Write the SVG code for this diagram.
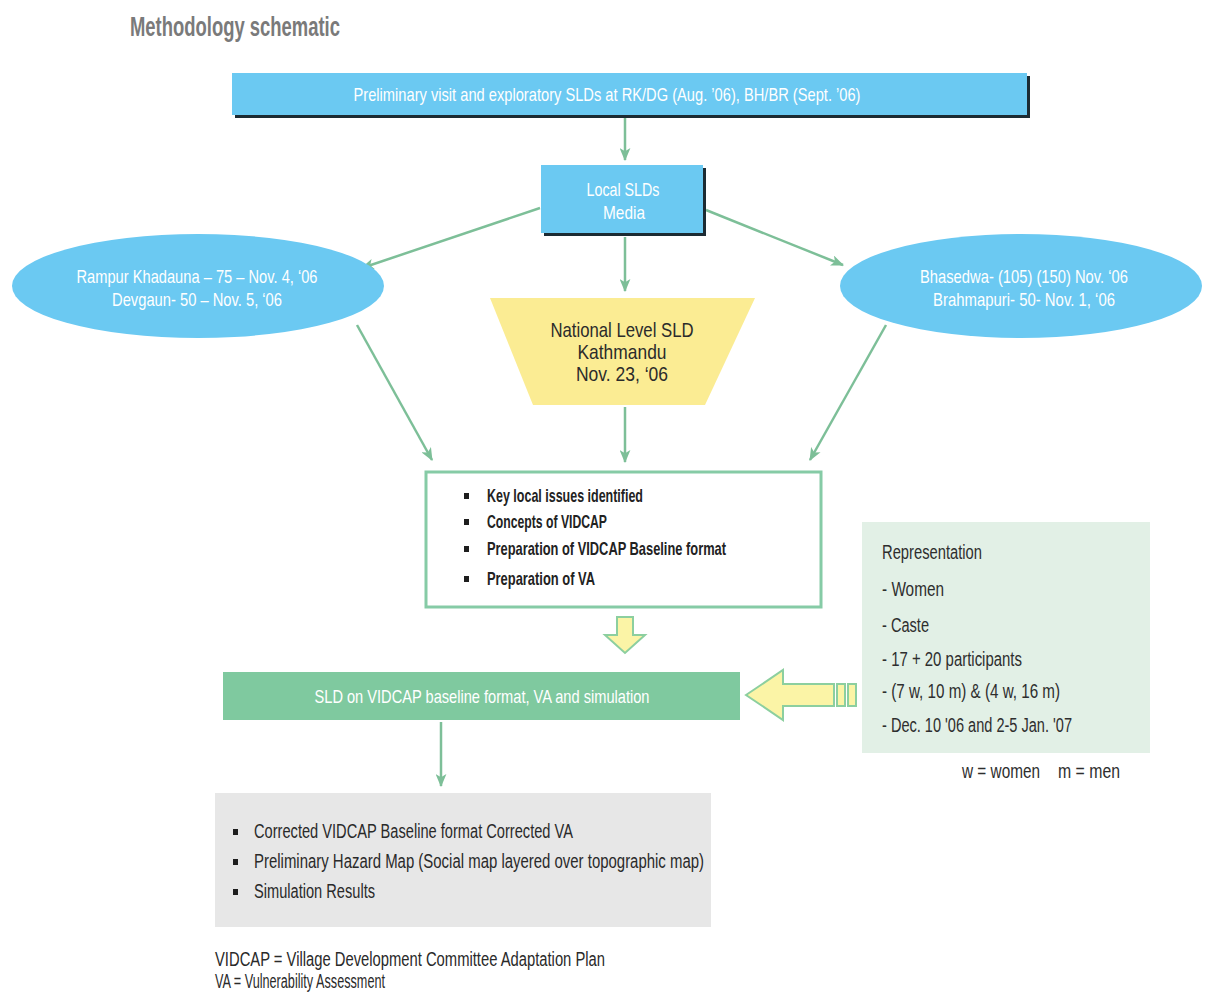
<svg xmlns="http://www.w3.org/2000/svg" width="1205" height="992" viewBox="0 0 1205 992">
  <style>
    text { font-family: "Liberation Sans", Arial, sans-serif; }
    .title { font-size: 28px; font-weight: bold; fill: #7a7a7a; }
    .wt { font-size: 19px; fill: #ffffff; text-anchor: middle; }
    .dk { font-size: 21px; fill: #2b2b2b; text-anchor: middle; }
    .blt { font-size: 19px; font-weight: bold; fill: #222222; }
    .rep { font-size: 20px; fill: #2e2e2e; }
    .gry { font-size: 20px; fill: #2a2a2a; }
    .blue { fill: #6bc9f2; }
    .shadow { fill: #1c2b33; }
    .conn { stroke: #7dbf98; stroke-width: 2.5; fill: none; marker-end: url(#head); }
    .hollow { fill: #fbf4a6; stroke: #8ccf9f; stroke-width: 2; }
    .sq { fill: #1e1e1e; }
  </style>
  <defs>
    <marker id="head" viewBox="0 0 12 10" refX="11" refY="5" markerWidth="13" markerHeight="11" markerUnits="userSpaceOnUse" orient="auto">
      <path d="M0,0 L12,5 L0,10 L3,5 z" fill="#7dbf98"/>
    </marker>
  </defs>

  <rect width="1205" height="992" fill="#ffffff"/>

  <text class="title" x="130" y="36" textLength="210" lengthAdjust="spacingAndGlyphs">Methodology schematic</text>

  <!-- connectors -->
  <g id="connectors">
    <line class="conn" x1="625" y1="118" x2="625" y2="160"/>
    <line class="conn" x1="540" y1="208" x2="362" y2="268"/>
    <line class="conn" x1="706" y1="210" x2="843" y2="265"/>
    <line class="conn" x1="625" y1="237" x2="625" y2="291"/>
    <line class="conn" x1="625" y1="407" x2="625" y2="462"/>
    <line class="conn" x1="357" y1="325" x2="432" y2="460"/>
    <line class="conn" x1="886" y1="325" x2="810" y2="460"/>
    <line class="conn" x1="441" y1="722" x2="441" y2="786"/>
    <!-- block arrows -->
    <polygon class="hollow" points="617,617 633,617 633,635 645,635 625,653 605,635 617,635"/>
    <polygon class="hollow" points="746,695 783,670 783,684 834,684 834,706 783,706 783,720"/>
    <rect class="hollow" x="837" y="684" width="8" height="22"/>
    <rect class="hollow" x="848" y="684" width="8" height="22"/>
  </g>

  <g id="preliminary">
    <rect class="shadow" x="235" y="76" width="795" height="42"/>
    <rect class="blue" x="232" y="73" width="795" height="42"/>
    <text class="wt" x="607" y="101" textLength="507" lengthAdjust="spacingAndGlyphs">Preliminary visit and exploratory SLDs at RK/DG (Aug. ’06), BH/BR (Sept. ’06)</text>
  </g>

  <g id="local-slds">
    <rect class="shadow" x="544" y="168" width="162" height="68"/>
    <rect class="blue" x="541" y="165" width="162" height="68"/>
    <text class="wt" x="623" y="196" textLength="73" lengthAdjust="spacingAndGlyphs">Local SLDs</text>
    <text class="wt" x="624" y="219" textLength="42" lengthAdjust="spacingAndGlyphs">Media</text>
  </g>

  <g id="rampur-devgaun">
    <ellipse class="blue" cx="198" cy="286" rx="186" ry="52"/>
    <text class="wt" x="197" y="283" textLength="241" lengthAdjust="spacingAndGlyphs">Rampur Khadauna – 75 – Nov. 4, ‘06</text>
    <text class="wt" x="197" y="306" textLength="170" lengthAdjust="spacingAndGlyphs">Devgaun- 50 – Nov. 5, ‘06</text>
  </g>

  <g id="bhasedwa-brahmapuri">
    <ellipse class="blue" cx="1021" cy="286" rx="181" ry="52"/>
    <text class="wt" x="1024" y="283" textLength="208" lengthAdjust="spacingAndGlyphs">Bhasedwa- (105) (150) Nov. ‘06</text>
    <text class="wt" x="1024" y="306" textLength="182" lengthAdjust="spacingAndGlyphs">Brahmapuri- 50- Nov. 1, ‘06</text>
  </g>

  <g id="national-sld">
    <polygon points="490,298 755,298 705,405 533,405" fill="#fbec93"/>
    <text class="dk" x="622" y="337" textLength="143" lengthAdjust="spacingAndGlyphs">National Level SLD</text>
    <text class="dk" x="622" y="359" textLength="89" lengthAdjust="spacingAndGlyphs">Kathmandu</text>
    <text class="dk" x="622" y="381" textLength="92" lengthAdjust="spacingAndGlyphs">Nov. 23, ‘06</text>
  </g>

  <g id="key-issues">
    <rect x="426" y="472" width="395" height="135" fill="#ffffff" stroke="#86cba6" stroke-width="3"/>
    <rect class="sq" x="464" y="493" width="5" height="6"/>
    <rect class="sq" x="464" y="519" width="5" height="6"/>
    <rect class="sq" x="464" y="546" width="5" height="6"/>
    <rect class="sq" x="464" y="576" width="5" height="6"/>
    <text class="blt" x="487" y="502" textLength="156" lengthAdjust="spacingAndGlyphs">Key local issues identified</text>
    <text class="blt" x="487" y="528" textLength="120" lengthAdjust="spacingAndGlyphs">Concepts of VIDCAP</text>
    <text class="blt" x="487" y="555" textLength="239" lengthAdjust="spacingAndGlyphs">Preparation of VIDCAP Baseline format</text>
    <text class="blt" x="487" y="585" textLength="108" lengthAdjust="spacingAndGlyphs">Preparation of VA</text>
  </g>

  <g id="sld-baseline">
    <rect x="223" y="672" width="517" height="48" fill="#7fc99f"/>
    <text class="wt" x="482" y="703" textLength="335" lengthAdjust="spacingAndGlyphs">SLD on VIDCAP baseline format, VA and simulation</text>
  </g>

  <g id="representation">
    <rect x="862" y="522" width="288" height="231" fill="#e2f0e6"/>
    <text class="rep" x="882" y="559" textLength="100" lengthAdjust="spacingAndGlyphs">Representation</text>
    <text class="rep" x="882" y="596" textLength="62" lengthAdjust="spacingAndGlyphs">- Women</text>
    <text class="rep" x="882" y="632" textLength="47" lengthAdjust="spacingAndGlyphs">- Caste</text>
    <text class="rep" x="882" y="666" textLength="140" lengthAdjust="spacingAndGlyphs">- 17 + 20 participants</text>
    <text class="rep" x="882" y="698" textLength="178" lengthAdjust="spacingAndGlyphs">- (7 w, 10 m) &amp; (4 w, 16 m)</text>
    <text class="rep" x="882" y="732" textLength="190" lengthAdjust="spacingAndGlyphs">- Dec. 10 '06 and 2-5 Jan. '07</text>
  </g>
  <text class="rep" x="962" y="778" textLength="78" lengthAdjust="spacingAndGlyphs">w = women</text>
  <text class="rep" x="1058" y="778" textLength="62" lengthAdjust="spacingAndGlyphs">m = men</text>

  <g id="outputs">
    <rect x="215" y="793" width="496" height="134" fill="#e7e7e7"/>
    <rect class="sq" x="233" y="829" width="5" height="6"/>
    <rect class="sq" x="233" y="859" width="5" height="6"/>
    <rect class="sq" x="233" y="889" width="5" height="6"/>
    <text class="gry" x="254" y="838" textLength="319" lengthAdjust="spacingAndGlyphs">Corrected VIDCAP Baseline format Corrected VA</text>
    <text class="gry" x="254" y="868" textLength="450" lengthAdjust="spacingAndGlyphs">Preliminary Hazard Map (Social map layered over topographic map)</text>
    <text class="gry" x="254" y="898" textLength="121" lengthAdjust="spacingAndGlyphs">Simulation Results</text>
  </g>

  <text class="gry" x="215" y="966" textLength="390" lengthAdjust="spacingAndGlyphs">VIDCAP = Village Development Committee Adaptation Plan</text>
  <text class="gry" x="215" y="988" textLength="170" lengthAdjust="spacingAndGlyphs">VA = Vulnerability Assessment</text>
</svg>
